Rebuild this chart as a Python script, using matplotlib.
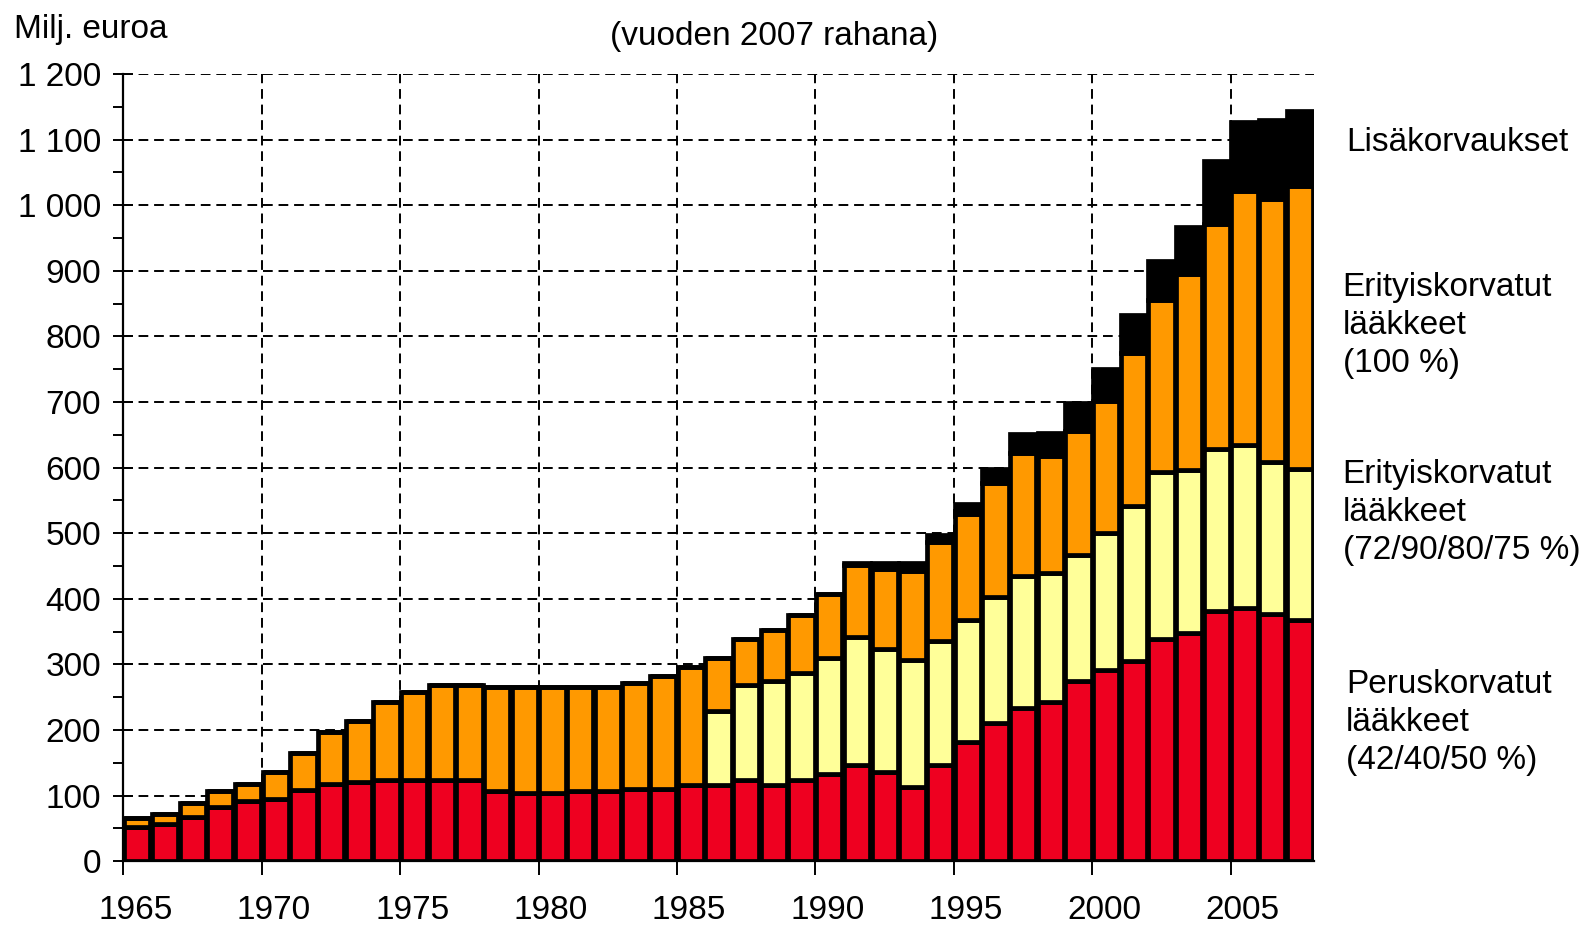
import numpy as np
import matplotlib.pyplot as plt
import matplotlib.transforms as mtransforms
from matplotlib.ticker import MultipleLocator, FuncFormatter

plt.rcParams['font.family'] = ['Liberation Sans', 'DejaVu Sans']

# === Data (milj. euroa, vuoden 2007 rahana) ===
years = np.arange(1965, 2008)
perus = [52, 56, 68, 82, 92, 95, 108, 118, 121, 124,
         124, 124, 124, 107, 104, 104, 107, 107, 110, 110,
         116, 116, 123, 116, 123, 133, 146, 136, 113, 146,
         182, 210, 233, 242, 274, 292, 305, 339, 348, 381,
         386, 377, 367]
erityis_alempi = [0] * 21 + [113, 145, 159, 164, 177, 196, 187, 193, 189,
                             186, 193, 202, 197, 193, 208, 237, 254, 248, 247,
                             248, 231, 231]
erityis_100 = [14, 16, 20, 25, 26, 41, 57, 79, 92, 119,
               134, 144, 144, 158, 161, 161, 158, 158, 161, 172,
               180, 81, 71, 77, 88, 98, 110, 123, 137, 152,
               161, 174, 187, 179, 189, 202, 232, 263, 299, 344,
               387, 402, 431]
lisakorvaukset = [0] * 26 + [3, 9, 12, 10, 15, 21, 29, 35, 43, 49,
                             58, 59, 72, 96, 106, 120, 115]
x_ticks = [1965, 1970, 1975, 1980, 1985, 1990, 1995, 2000, 2005]

series = [
    (perus, "#EE0020"),
    (erityis_alempi, "#FFFF99"),
    (erityis_100, "#FF9900"),
    (lisakorvaukset, "#000000"),
]

fig = plt.figure(figsize=(15.87, 9.25), dpi=100)
ax = fig.add_axes([0.0778, 0.069, 0.750, 0.851])

# === Bars ===
bottom = np.zeros(len(years))
for vals, col in series:
    vals = np.array(vals, dtype=float)
    ax.bar(years + 0.5, vals, width=0.95, bottom=bottom, color=col,
           edgecolor="black", linewidth=3.4, zorder=3)
    bottom += vals

# === Axes ===
ax.set_xlim(1965, 2008)
ax.set_ylim(0, 1200)
ax.yaxis.set_major_locator(MultipleLocator(100))
ax.yaxis.set_minor_locator(MultipleLocator(50))
ax.set_xticks(x_ticks)
ax.set_xticklabels([str(t) for t in x_ticks])
ax.yaxis.set_major_formatter(FuncFormatter(lambda v, p: f"{int(v):,}".replace(",", " ")))

ax.grid(True, which="major", color="black", linestyle=(0, (5, 3)), linewidth=1.4, zorder=0)
for s in ["top", "right"]:
    ax.spines[s].set_visible(False)
for s in ["left", "bottom"]:
    ax.spines[s].set_linewidth(1.6)
    ax.spines[s].set_zorder(4)

ax.tick_params(axis="y", which="major", direction="inout", length=14, width=1.4,
               labelsize=24, pad=9)
ax.tick_params(axis="y", which="minor", direction="out", length=7, width=1.4)
ax.tick_params(axis="x", which="major", direction="out", length=10, width=1.4,
               labelsize=24, pad=14)

# labels sit a bit right of their ticks in the original
shift = mtransforms.ScaledTranslation(0.12, 0, fig.dpi_scale_trans)
for lab in ax.get_xticklabels():
    lab.set_transform(lab.get_transform() + shift)

# === Texts ===
fig.text(0.009, 0.968, "Milj. euroa", fontsize=24, ha="left", va="center")
fig.text(0.488, 0.961, "(vuoden 2007 rahana)", fontsize=24, ha="center", va="center")

fig.text(0.848, 0.846, "Lisäkorvaukset", fontsize=24, ha="left", va="center")
fig.text(0.846, 0.648, "Erityiskorvatut\nlääkkeet\n(100 %)", fontsize=24,
         ha="left", va="center", linespacing=1.3)
fig.text(0.846, 0.446, "Erityiskorvatut\nlääkkeet\n(72/90/80/75 %)", fontsize=24,
         ha="left", va="center", linespacing=1.3)
fig.text(0.848, 0.219, "Peruskorvatut\nlääkkeet\n(42/40/50 %)", fontsize=24,
         ha="left", va="center", linespacing=1.3)

fig.savefig("out.png", dpi=100)
